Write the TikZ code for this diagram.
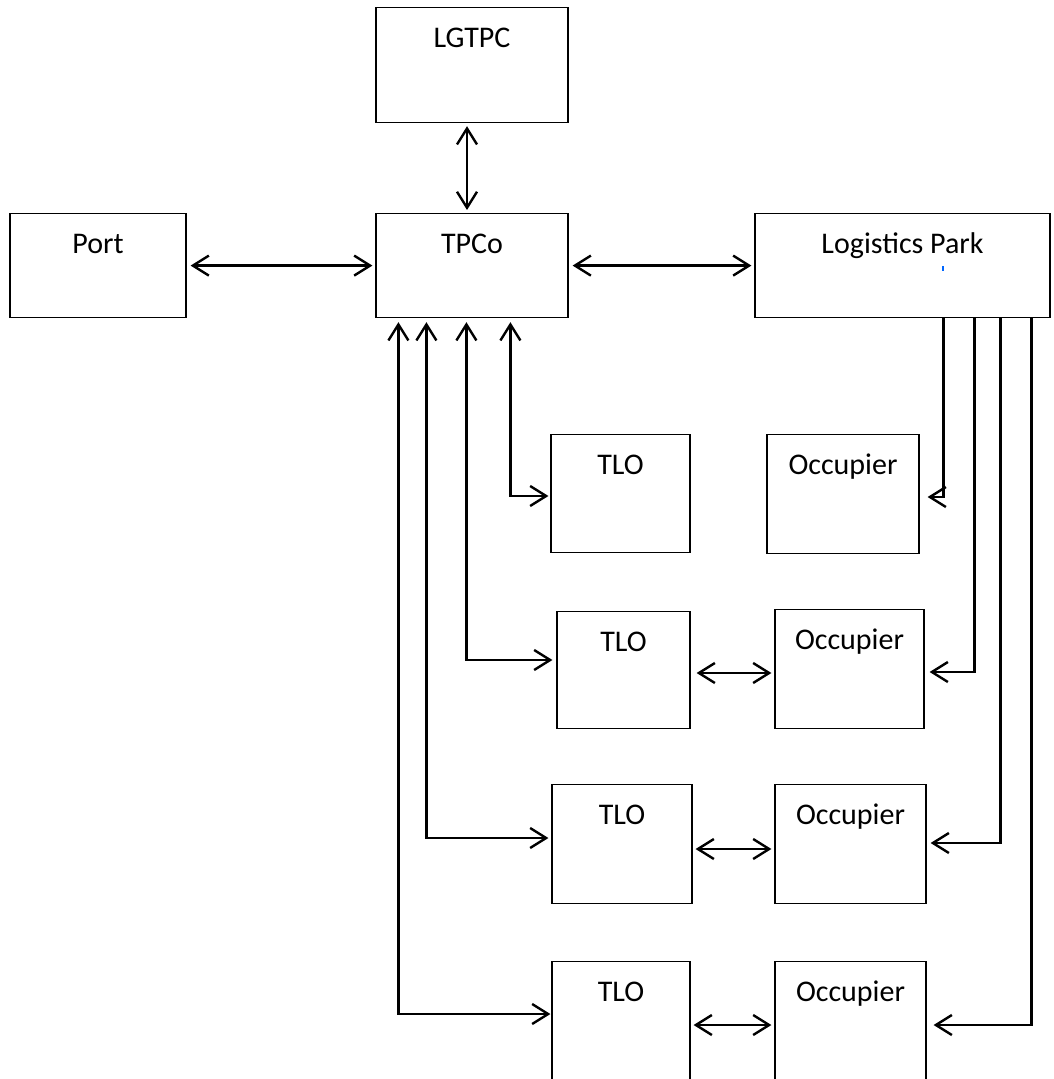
\documentclass[tikz,border=0pt]{standalone}
\usepackage{fontspec}
\setmainfont{Carlito}
\usepackage{tikz}
\usetikzlibrary{arrows.meta}
\tikzset{ entity/.style 2 args = {rectangle, draw, line width=0.6pt, anchor=north, inner sep=0pt, text height=20pt, minimum width=#1, text depth=#2, font=\fontsize{15}{18}\selectfont} }
\tikzset{ link/.style = {line width=1.2pt} }
\tikzset{ >={Straight Barb[length=8pt,width=10pt]} }

\begin{document}
\begin{tikzpicture}[x=0.5pt, y=-0.5pt]
            \useasboundingbox (0,0) rectangle (1053,1079);
            \clip (0,0) rectangle (1053,1079);
            \node [entity={96pt}{37.5pt}] (LGTPC) at (472, 7) {LGTPC};
            \node [entity={88pt}{32pt}] (Port) at (98, 213) {Port};
            \node [entity={96pt}{32pt}] (TPCo) at (472, 213) {TPCo};
            \node [entity={147.5pt}{32pt}] (LP) at (902.5, 213) {Logistics Park};
            \node [entity={69.5pt}{39pt}] (TLO1) at (620.5, 434) {TLO};
            \node [entity={76pt}{39.5pt}] (Occ1) at (843, 434) {Occupier};
            \node [entity={66.5pt}{38.5pt}] (TLO2) at (623.5, 611) {TLO};
            \node [entity={74.5pt}{39.5pt}] (Occ2) at (849.5, 609) {Occupier};
            \node [entity={70pt}{39.5pt}] (TLO3) at (622, 784) {TLO};
            \node [entity={75.5pt}{39.5pt}] (Occ3) at (850.5, 784) {Occupier};
            \node [entity={69pt}{60pt}] (TLO4) at (621, 961) {TLO};
            \node [entity={75.5pt}{60pt}] (Occ4) at (850.5, 961) {Occupier};
            \fill[blue!60!cyan] (942,266) rectangle (944,271);
            % top row
            \draw[link, <->, shorten <=1.5pt, shorten >=1.5pt] ([xshift=-2.5pt]LGTPC.south) -- ([xshift=-2.5pt]TPCo.north);
            \draw[link, <->, shorten <=2pt, shorten >=1.5pt] (Port) -- (TPCo);
            \draw[link, <->, shorten <=2pt, shorten >=1.5pt] (TPCo) -- (LP);
            % TPCo down to the TLOs
            \draw[link, <->] ([xshift=67.5pt, yshift=-2pt]TPCo.south west) |- ([xshift=-1pt, yshift=-31pt]TLO1.north west);
            \draw[link, <->] ([xshift=45.5pt, yshift=-2pt]TPCo.south west) |- ([xshift=-2pt, yshift=-24.5pt]TLO2.north west);
            \draw[link, <->] ([xshift=25.5pt, yshift=-2pt]TPCo.south west) |- ([xshift=-1.5pt, yshift=-27pt]TLO3.north west);
            \draw[link, <->] ([xshift=11.5pt, yshift=-2pt]TPCo.south west) |- ([xshift=-0.5pt, yshift=-26.5pt]TLO4.north west);
            % Logistics Park down to the occupiers
            \draw[link, ->] ([xshift=94.5pt]LP.south west) |- ([xshift=4pt, yshift=-31.5pt]Occ1.north east);
            \draw[link, ->] ([xshift=110pt]LP.south west) |- ([xshift=2.5pt, yshift=-31.5pt]Occ2.north east);
            \draw[link, ->] ([xshift=123pt]LP.south west) |- ([xshift=2pt, yshift=-29.5pt]Occ3.north east);
            \draw[link, ->] ([xshift=138.5pt]LP.south west) |- ([xshift=3.5pt, yshift=-32pt]Occ4.north east);
            % TLO and occupier
            \draw[link, <->] ([xshift=3pt, yshift=-31pt]TLO2.north east) -- ([xshift=-1.5pt, yshift=-32pt]Occ2.north west);
            \draw[link, <->] ([xshift=1.5pt, yshift=-32.5pt]TLO3.north east) -- ([xshift=-1.5pt, yshift=-32.5pt]Occ3.north west);
            \draw[link, <->] ([xshift=1.5pt, yshift=-32pt]TLO4.north east) -- ([xshift=-1.5pt, yshift=-32pt]Occ4.north west);
        \end{tikzpicture}
\end{document}
